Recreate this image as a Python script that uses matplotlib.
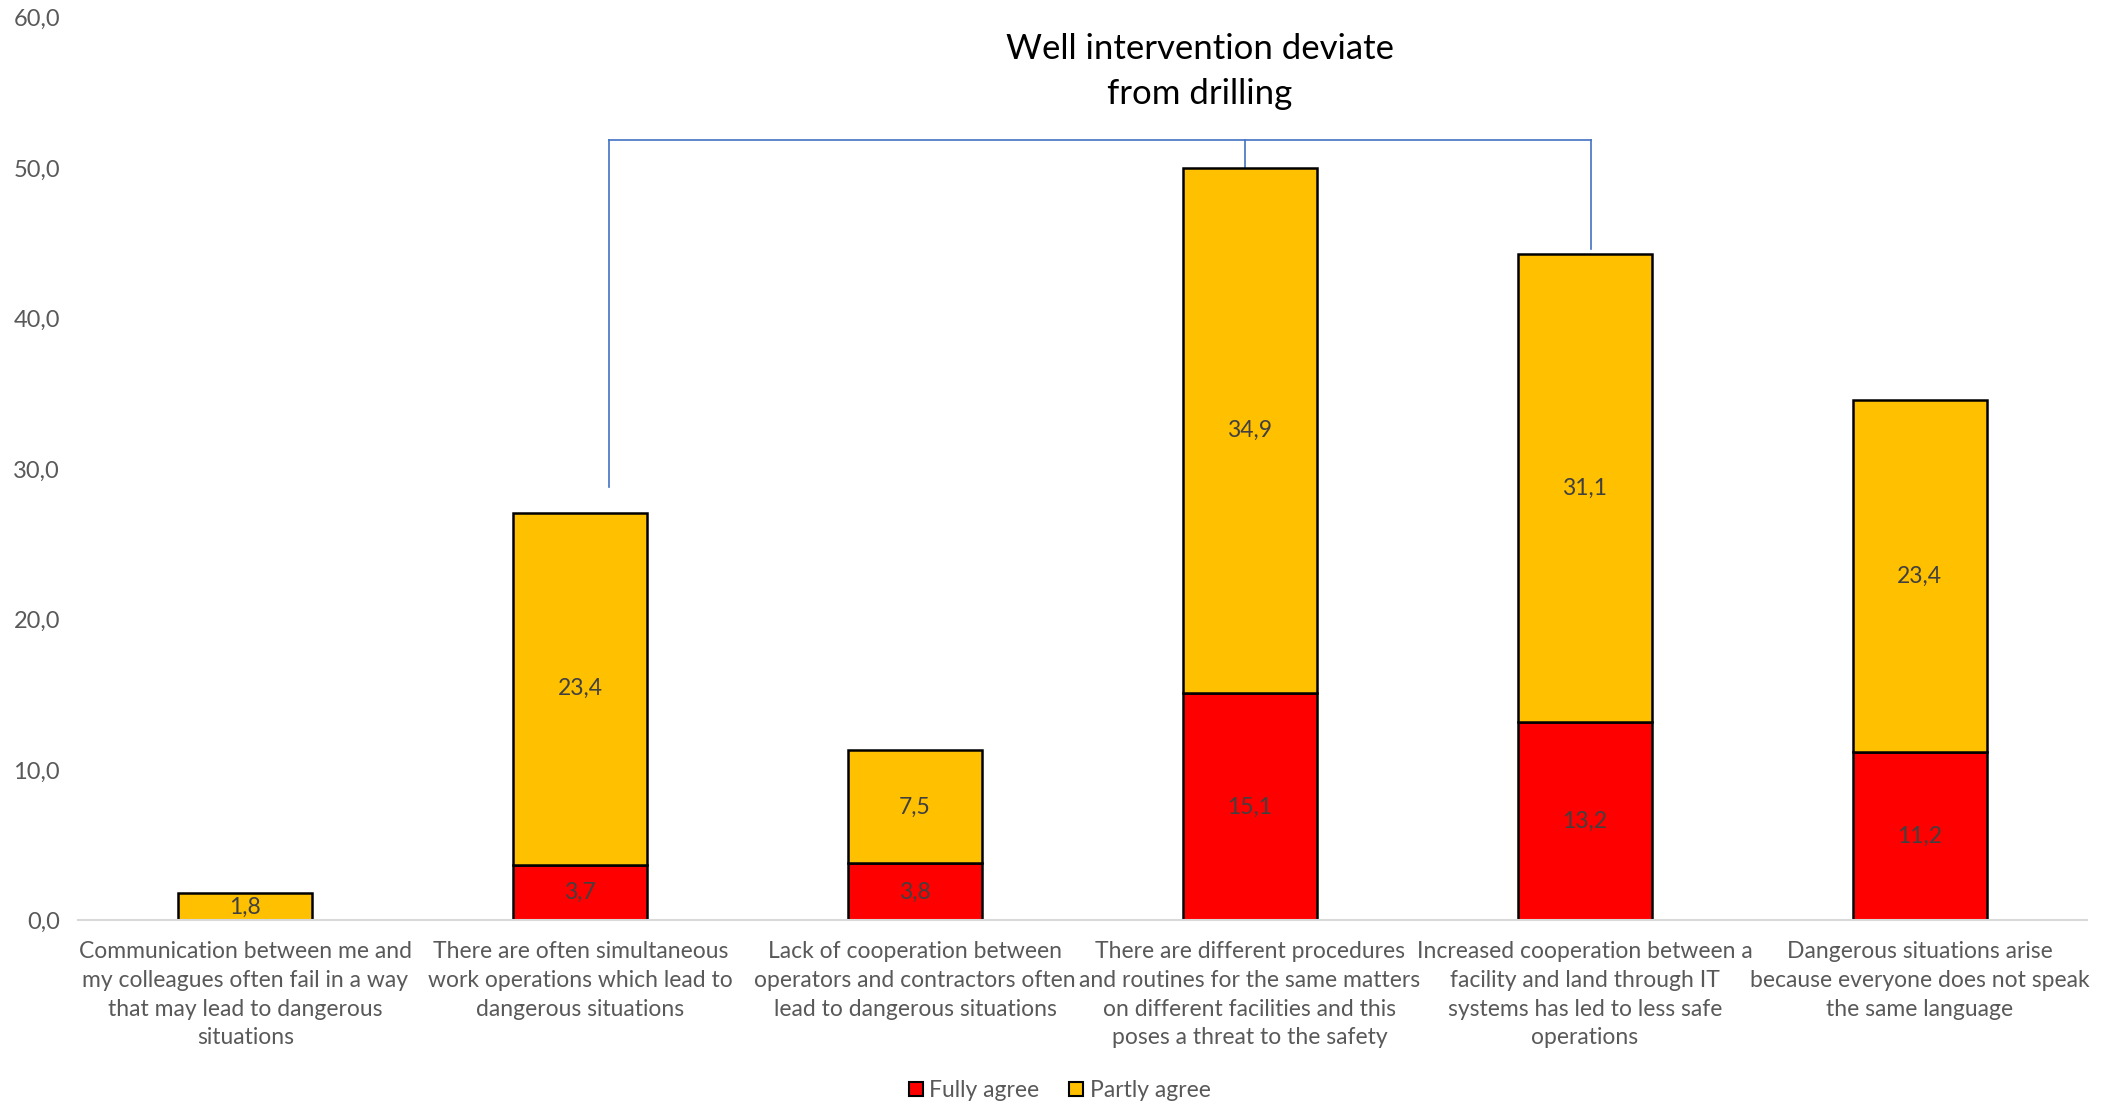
import matplotlib
matplotlib.use("Agg")
import matplotlib.pyplot as plt
from matplotlib.patches import Patch
import numpy as np

plt.rcParams['font.family'] = ['Lato', 'DejaVu Sans']

categories = [
    "Communication between me and\nmy colleagues often fail in a way\nthat may lead to dangerous\nsituations",
    "There are often simultaneous\nwork operations which lead to\ndangerous situations",
    "Lack of cooperation between\noperators and contractors often\nlead to dangerous situations",
    "There are different procedures\nand routines for the same matters\non different facilities and this\nposes a threat to the safety",
    "Increased cooperation between a\nfacility and land through IT\nsystems has led to less safe\noperations",
    "Dangerous situations arise\nbecause everyone does not speak\nthe same language",
]
fully_agree = [0.0, 3.7, 3.8, 15.1, 13.2, 11.2]
partly_agree = [1.8, 23.4, 7.5, 34.9, 31.1, 23.4]
series_names = ["Fully agree", "Partly agree"]
yticks = [0, 10, 20, 30, 40, 50, 60]
title_text = "Well intervention deviate\nfrom drilling"

RED = "#FF0000"
YEL = "#FFC000"
TXT = "#595959"
LBL = "#404040"
BLUE = "#4472C4"

fig = plt.figure(figsize=(21.07, 11.05), dpi=100)
ax = fig.add_axes([0.037, 0.167, 0.9535, 0.817])

x = np.arange(len(categories))
fa = np.array(fully_agree)
pa = np.array(partly_agree)
w = 0.4

ax.bar(x, fa, width=w, color=RED, edgecolor="black", linewidth=1.8, zorder=3)
ax.bar(x, pa, width=w, bottom=fa, color=YEL, edgecolor="black", linewidth=1.8, zorder=3)

for i in range(len(x)):
    if fa[i] > 0:
        ax.text(x[i], fa[i] / 2, f"{fa[i]:.1f}".replace(".", ","), ha="center", va="center",
                fontsize=16.5, color=LBL, zorder=4)
    ax.text(x[i], fa[i] + pa[i] / 2, f"{pa[i]:.1f}".replace(".", ","), ha="center", va="center",
            fontsize=16.5, color=LBL, zorder=4)

ax.set_xlim(-0.5, len(categories) - 0.5)
ax.set_ylim(0, 60)
ax.set_yticks(yticks)
ax.set_yticklabels([f"{v:.1f}".replace(".", ",") for v in yticks], fontsize=17, color=TXT)
ax.set_xticks(x)
ax.set_xticklabels(categories, fontsize=16.5, color=TXT, linespacing=1.45)
ax.tick_params(axis="both", length=0)
ax.tick_params(axis="x", pad=15)
ax.tick_params(axis="y", pad=13)
for s in ["top", "right", "left"]:
    ax.spines[s].set_visible(False)
ax.spines["bottom"].set_color("#D9D9D9")
ax.spines["bottom"].set_linewidth(1.5)
ax.spines["bottom"].set_zorder(5)

# bracket annotation
totals = fa + pa
ybr = 51.9
xl, xm, xr = 1.085, 2.985, 4.02
ax.plot([xl, xr], [ybr, ybr], color=BLUE, lw=1.2, zorder=2, clip_on=False)
ax.plot([xl, xl], [ybr, totals[1] + 1.7], color=BLUE, lw=1.2, zorder=2)
ax.plot([xr, xr], [ybr, totals[4] + 0.3], color=BLUE, lw=1.2, zorder=2)
ax.plot([xm, xm], [ybr, totals[3]], color=BLUE, lw=1.2, zorder=2)

ax.text(2.85, 56.4, title_text, ha="center", va="center", fontsize=25, color="black",
        linespacing=1.5)

handles = [Patch(facecolor=RED, edgecolor="black", linewidth=1.5),
           Patch(facecolor=YEL, edgecolor="black", linewidth=1.5)]
fig.legend(handles, series_names, loc="center", bbox_to_anchor=(0.503, 0.013), ncol=2,
           frameon=False, fontsize=16.5, handlelength=0.6, handleheight=0.6,
           handletextpad=0.3, columnspacing=1.3, labelcolor=TXT)

fig.savefig("out.png", dpi=100)
